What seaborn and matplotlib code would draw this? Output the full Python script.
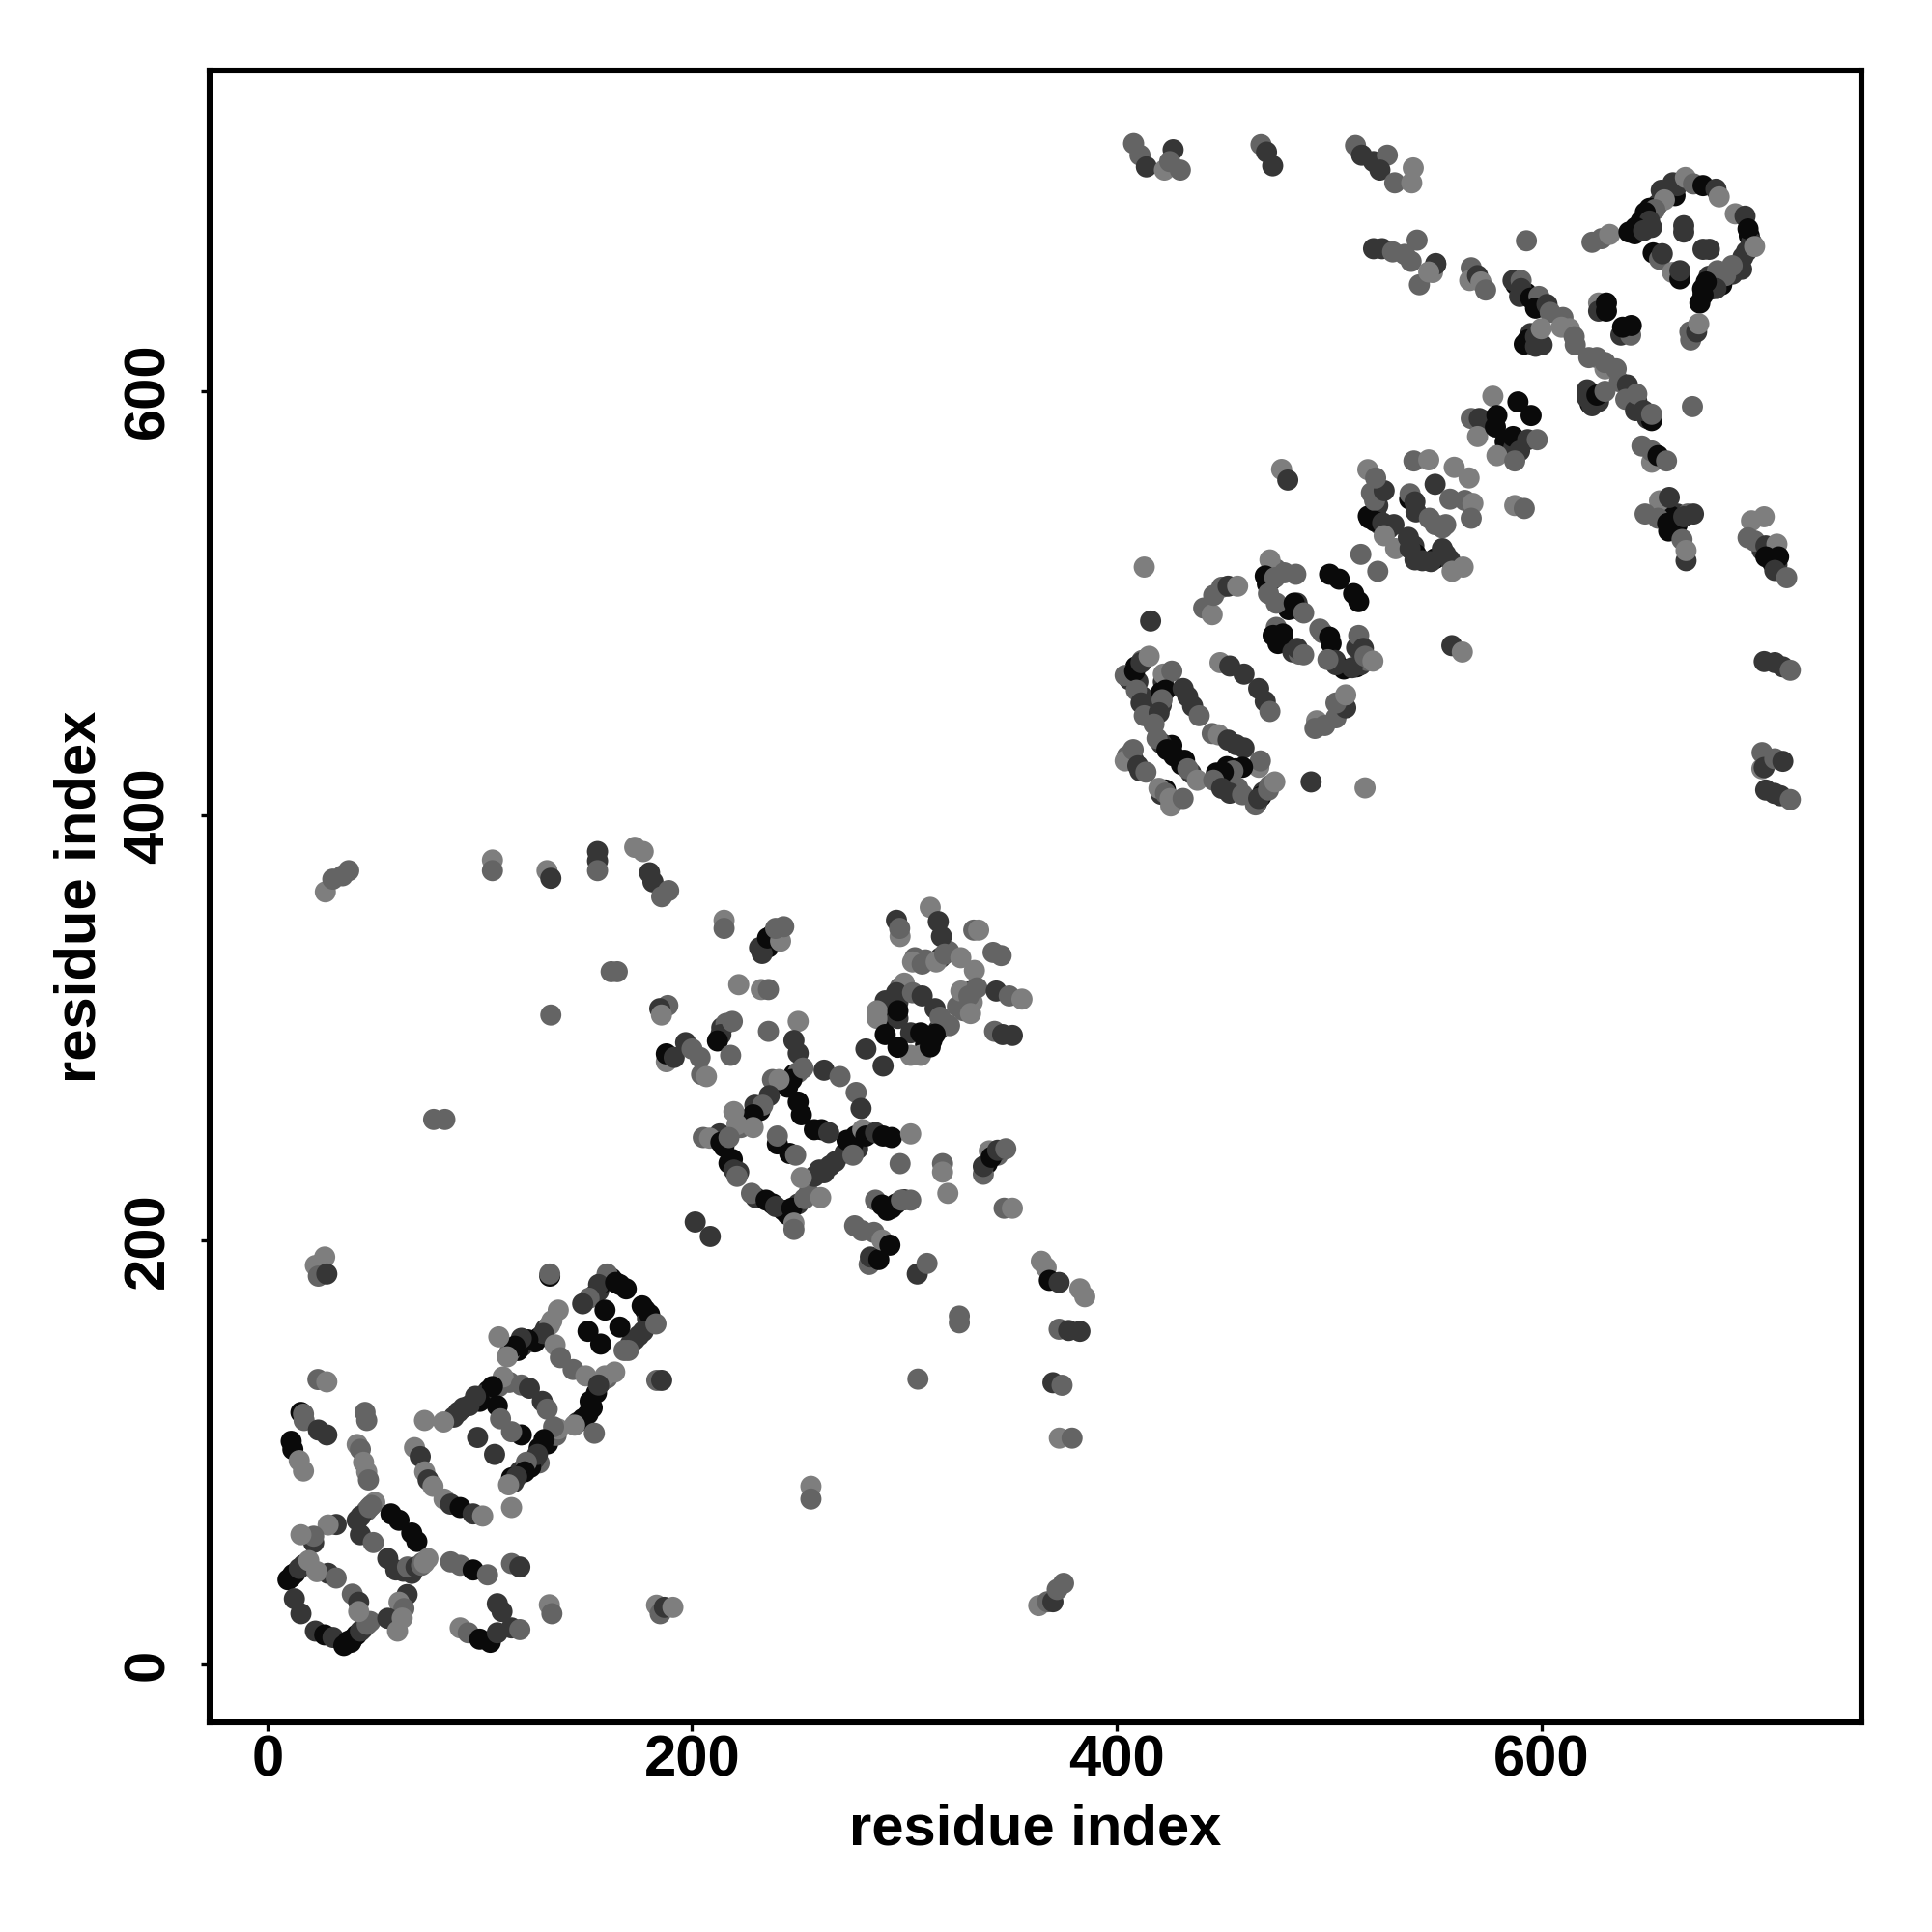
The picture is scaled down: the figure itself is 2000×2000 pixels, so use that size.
import matplotlib
matplotlib.use("Agg")
import matplotlib.pyplot as plt
import pandas as pd
import seaborn as sns

# (residue i, residue j, contact strength 0..3)
ring_low = [(27,192,0),(22.6,188,0),(24,183,1),(28,184,2),(133,183,3),(133,184,1),
(160,184,1),(156,179,2),(151.5,172.6,1),(148.5,170,2),(159,167,3),(164,180,3),(169,177,3),(176.5,169,3),(180,165,3),(177,157,2),(173,153,2),(168,148,1),(170,148,1),(166,159,3),(183,160.5,1),(151,157,3),(157,151,3),
(137,167,0),(134,162,0),(130,156,2),(135.5,150.6,0),(138,144.6,1),(122.7,153,3),(119.6,153.7,2),(116.6,150,3),(113,145,0),(109,154.4,0),
(144,139,1),(150,136,0),(159,136,0),(163.6,137.8,0),(156,131.7,2),(153,121,3),(148.5,115.8,3),(144.7,112.8,0),(154,109,1),
(111,135.5,0),(106,131,3),(98,126.4,2),(92.3,121,2),(87.8,116.6,2),(83,114.3,0),(74,115,0),(119.6,131.7,1),(123.4,130.2,2),(129.5,124,2),(131.8,120.3,1),(108.3,121.9,3),(109.8,115.8,1),(134.8,112,1),(130.3,106,3),(119.6,108.2,3),(115,109.7,1),(127.2,99,2),(122,95.3,1),(121.2,90.8,3),(117.4,88.5,2),(113.6,84.7,0),(99,107,2),(107,99,2),(115,74,0),(183.4,133.9,1),(185.7,133.9,2),
(11.2,105.2,3),(15.8,118.8,3),(17,118,1),(17.3,115,1),(24,110.5,2),(28,108.2,2),(12,101.4,3),(15,96.1,0),(17,91.2,0),(23.8,134.3,1),(28,133.2,0),
(46,118.8,1),(46.8,115,1),(42.3,103.7,0),(43.8,101.4,1),(45.3,95.3,0),(46.8,90.8,0),(47.6,87,1),
(69.3,102.2,0),(72,98,2),(74.1,90.8,0),(75.7,87,2),(78,84,0),(83.2,78,0),(86.3,75.6,2),(90.8,74,3),(96.9,71,2),(101.4,70,0)]
ring_low_dense = [(156,176,2),(154,174,2),(158,180,3),(162,182,3),(166,179,3),(178,167,3),(179,163,2),(181,162,2),(175,155,2),(171,151,2),(131,158,2),(128,154,3),(126,152,3),(133,160,0),(120,150,2),(118,148,3),(114,147,1),
(155,128,3),(157,133,2),(160,135,1),(152,124,3),(151,118,3),(146,114,2),(104,129,3),(102,127,2),(100,124,3),(95,122,2),(90,119,2),(109,131,1),(114,133,1),(128,95,1),(126,97,2),(124,93,3),(132,104,3),(128,102,3),(119,91,2),(116,86,2),(115,88,3),(136,108,1),(137,111,0)]
ring_bottom = [(42.3,68,2),(46.8,72.6,1),(50.6,76.4,0),(44,70,2),(48,74,1),(49,75,1),(58.2,71,3),(62,68,3),(68,62,3),(70.4,58,3),(56.7,50,2),(60.5,44.6,2),(64,44,2),(68,43,2),(66,46,1),(70,46,2),(72.6,46.8,1),(73,48,1),(75.6,50,0),(74,48,0),(43.8,61.2,2),(49.9,57.5,1),(32.4,66,2),(28.6,65.8,0),(21.8,57.5,2),(21.8,60.5,1),(15.8,61.2,0),
(9.7,40,3),(11,41,3),(12,42.5,3),(13,43,3),(15,45.3,2),(17,47,2),(19.5,49,0),(12.7,31,2),(15.8,24,2),(22.6,15.8,2),(27,14,3),(30.9,12.8,2),(36,9,3),(38,11,3),(39.3,10.5,3),(40,12,3),(42,14,3),(43.8,15.8,2),(45,17,2),(47,19,1),(48.4,20.3,1),(28.6,43,2),(23.3,43.8,0),(32.4,40.8,1),(40,33.2,1),(43,29.4,2),(43,25,0),(65.8,33,2),(62,29.4,0),(64.3,26.4,1),(56.7,21.8,2),(61.3,15.8,0),(63.5,21.9,0),
(86.3,48.4,1),(90.8,46.8,1),(96.9,44.6,3),(103.7,42.3,1),(115,47.6,1),(118.9,46,2),
(90.8,17.3,0),(94.6,15,1),(100,12,3),(105,10.5,3),(108.3,15,2),(110.5,25,2),(108.3,28.7,2),(115,17.3,2),(118.9,16.5,1),(132.8,28.2,0),(134,24,1),
(183.3,28,0),(185,24,1),(187,27,2),(191,27,0)]
ring_mid = [(215.1,350.6,0),(215.1,346.8,1),(231.8,337.7,2),(235.6,342.3,3),(241.7,340.8,0),(239.4,346.8,1),(243.2,347.6,1),
(222,320.3,0),(232.6,318,0),(236,318,1),(188.6,310.5,1),(184.8,309,2),(185.6,306,0),
(213.6,296.8,2),(212,293.8,3),(219,303,1),(218.2,287,1),(236,298.3,1),(250,303,0),
(187.9,284,0),(187.9,287.7,3),(191.6,286,2),(197,293,2),(200,290,1),(203.8,286,1),(204.5,278,1),(206.8,277,0),
(248,294,2),(250,288,2),(247,275.6,3),(252.3,281,1),(237.9,275.6,1),(241,275.6,0),(236.4,268,2),(229.6,263.5,2),(233.3,263.5,1),(228.8,259,3),(219.7,260.5,0),(228.8,253,0),(221.2,254.4,0),(205.3,248.3,1),(208.3,248,0),(213.6,246,3),(217.4,248.3,1),
(217.4,236.2,3),(219.7,233,2),(221.2,230,1),(228,222,1),(234.9,218.8,3),(239.4,215.8,2),(247,215,3),(253,219.5,1),(260.6,220,0),(248,208,0),(248,205,1),
(257.6,230,2),(262.2,231.7,2),(267.5,237,2),(251.5,229.4,0),(275.8,245.3,3),(275.8,240,1),(280.4,252,0),(281.9,249,3),(286.4,250.6,2),(294,248.3,3),(290,249,3),(303,250,0),
(262.2,280,2),(269.7,277,1),(277.3,269.5,1),(279.6,262,2),(250,265,3),(251.5,259,3),(257.6,252,3),(261,252,3),(264.4,250.6,2),(240.2,245.3,3),(240.2,249,1),(246,240.8,3),(248.8,240,1),
(201.5,208.5,2),(208.6,201.7,2),(298,236,1),(318,236,1),(318,232,0),(320.5,222,0),(347,215,1),(350.9,215,0),
(340,242,0),(337.2,231,1),(337.2,234.7,2),(341,239,3),(344,242.3,2),(347.8,243,1),
(286.4,218.8,1),(289.5,216.5,3),(294,215,3),(298.6,218.8,1),(303,218.8,1),
(276.6,206.7,1),(280,204.4,1),(285.7,203.6,1),(283.4,188.5,1),(284,192,2),(288,190.8,3),(289.5,200,0),(293.2,197.6,3),(306.1,184,2),(310.7,189,1),
(325.9,161,1),(325.9,164.2,1),(364.5,190,0),(366.8,187,0),(368.3,181,3),(372.9,180,2),(382.7,177,0),(385,173.3,0),(372.9,158,1),(377.4,157.4,2),(382.7,157,2),
(312.2,356.7,0),(316,350,2),(317.5,343,2),(296.3,350.6,2),(298,343,0),(297.8,346.8,1),(332.7,346,1),(335,346,0),(341.8,335.5,1),(345.6,334,1),
(303.9,331,0),(308.4,330,1),(315,331,0),(319,334.7,1),(326.6,333,0),(333,327,0),(326.6,317.3,0),(330.4,315,1),(334.2,318.8,1),(343.3,317.3,2),(349.4,315,1),(355.4,313.5,0),(328,308,1),(331.2,306.7,0),
(300,321,0),(296.3,316.5,2),(303.9,316.5,1),(308.4,315,2),(291,312.7,2),(287.2,308,0),(287.2,304.4,0),(297,304.4,2),(297,308,3),
(314.5,309,2),(316.8,305,1),(321.3,301,1),(303,287,0),(307.7,287,0),(303,297.6,2),(307.7,297.6,3),(314.5,297,3),(312.2,291,3),(291,296.8,3),(297,290.8,3),(281.9,290,2),(290,282,2),(342.5,298.3,1),(346.3,296.8,2),(350.9,296.4,2)]
ring_mid_dense = [(214,300,2),(216,302,1),(236,338,3),(238,344,2),(233,335,2),(245,272,3),(248,278,3),(250,279,1),(232,261,3),(226,256,2),(223,253,1),(215,244,3),(213,250,2),(219,238,3),(222,232,2),(230,220,2),(238,217,3),(243,214,3),(250,217,2),(245,212,3),(255,222,1),(260,233,2),(265,235,2),(272,241,2),(273,247,3),(277,249,3),(278,243,2),(342,240,2),(339,236,3),(344,240,1),(292,214,3),(296,217,3),(300,219,2),
(297,312,2),(298,319,1),(293,310,3),(291,305,3),(295,309,3),(310,292,3),(313,294,3),(316,299,2),(319,302,1),(305,333,1),(310,332,1),(317,333,2),(321,336,1),(331,317,2),(332,312,0),(325,310,1)]
ring_high = [(413,517,0),(416,491.6,2),(441,497.7,1),(445,494.6,0),(445.7,503.7,1),(449.5,507.5,1),(452.5,508,2),(457,508,0),
(472.2,520.4,0),(470,512.8,3),(474.5,512,1),(479,514.3,1),(484.4,513.6,1),(471.5,504.5,1),(475.2,500,1),(483.6,500,3),(488.1,495.4,1),
(500.3,513.6,3),(504.8,511.3,3),(511.6,504.5,3),(514,500.7,3),(515,523,1),(523,515,1),
(475.2,488.6,1),(473.7,484.8,3),(478.3,485.5,3),(485.1,478.7,2),(488.1,475.7,1),(495.7,487.8,1),(500.3,484,3),(514,484.8,1),(516.2,478.7,2),(510.9,469.6,2),(503.3,471,2),(499.5,473.4,1),(517,475,1),(520.7,472.7,0),
(557.9,480,2),(562.8,477,0),(494.2,444.6,0),(493.4,441,1),(498,442.4,1),(503.3,446,1),(507.9,450.7,2),(503.3,453,1),(507.9,456.8,0),
(448.7,472,0),(453.3,470.4,2),(460,466.6,2),(466.9,459.8,2),(470,453.7,2),(472.2,449,1),
(404,466,1),(408.5,468,3),(411.5,472,2),(415.3,475,0),(409.3,459,1),(411.5,453,2),(413,447,1),(422,466.6,0),(426,468,1),(423,459,3),(421.4,454.5,1),(420,448.4,2),(417.6,443,1),
(431.3,459.8,2),(433.5,456,2),(435.8,451.5,2),(438.9,447,1),(445,438.6,1),(448,438,0),(452.5,435.5,2),(456.3,433.3,2),(460,431.8,2),
(419,436.3,1),(423.7,431,3),(430.5,424,3),(433.5,422,1),(438,416.6,0),(467,422.7,0),(467.7,425.7,1),(459.3,422.7,3),(454.8,421,1),(450.2,420.4,3),(445.7,416.6,1),(449.5,412.8,2),(453.3,410.5,2),(459.3,409.8,1),
(465.4,405,1),(466.9,408,2),(471.5,412,1),(474.5,415.8,0),(491.6,415.8,2),(517,413,0),
(404,425.7,0),(407.8,431,1),(410,423.4,2),(413.8,420.4,1),(419.9,412.8,0),(425.5,404.5,0),(423,410.5,1),(425.2,408,0),(431.3,408,1),
(518.5,541,3),(521.5,548.4,1),(521.5,538.6,3),(526,553,2),(525.3,537.8,2),(530.6,537,2),(526,531.8,0),(531.4,525.7,0),(537.4,531,2),(538.2,525.7,2),(540.5,520.4,2),(548,519.6,2),(553.4,525.7,2),(557,520.4,2),(558,515,0),(563.2,517,0),
(538.2,551.5,1),(540.5,547.7,2),(547.3,540,1),(553.4,535.5,1),(550,556,2),(557,549,1),(564,548.4,1),(567.8,547,0),(567,540,1),(587.5,546,0),(592,544.6,1),
(518.3,562.9,0),(540,567,1),(547,567.5,0),(559,564,0),(566,559,0),(477.7,563,0),(480.6,558,2),(522,559,1)]
ring_high_dense = [(406,464,2),(409,470,3),(412,473,1),(407,466,3),(410,463,2),(412,456,2),(414,451,2),(422,463,2),(421,458,3),(421,452,2),(426,433,3),(427,428,3),(421,434,2),(432,426,3),(435,420,2),(447,420,3),(452,423,3),(456,422,3),(449,416,2),(457,413,1),(469,411,2),(472,414,1),(466,406,2),(468,409,3),(405,428,1),(408,426,2),(411,421,2),(421,410,2),(423,412,3),(473,511,3),(471,509,3),(475,516,1),(481,497,3),(486,497,3),(485,500,2),(476,481,3),(483,477,2),(486,476,1),(497,486,1),(501,481,3),(503,473,2),(507,469,3),(513,470,3),(515,471,2),(518,473,1),(519,540,3),(520,552,1),(523,546,2),(522,542,2),(524,537,2),(528,535,2),(540,527,2),(541,523,3),(544,520,2),(550,521,3),(555,523,2),(538,549,3),(541,543,2),(550,537,1),(555,537,1),(513,479,2)]
ring_top = [(593,670.7,1),(623.9,670,1),(628.4,671.7,1),(632.2,673.7,0),
(656.5,694.5,2),(664,696.7,2),(667.9,700.5,0),(658,690,0),(653.5,685.4,1),(649,684,3),(651,680,2),(644.4,677,3),(641.3,674.8,3),(648.2,675.5,2),(671.7,697.5,1),(676.2,696.7,3),(682.3,695,2),(683.8,691.4,0),(691.4,683.4,0),(696,682.3,2),(697.4,676.3,3),(696.7,665.7,2),(700.5,668,0),(694.4,657.3,2),(689.9,659,1),(686.8,654.3,1),(683,656.6,1),(682.3,648.2,2),(677.7,651.3,3),(676.2,645.2,3),(674.7,641.4,3),
(667.1,677.8,2),(667.1,674.8,2),(676.2,666.7,2),(679.2,666.7,2),(652.7,665,3),(655.7,662,1),(657,664.6,2),(661.8,655.8,0),(665.3,652.8,3),(665.3,656.6,2),(670.4,624,1),(670,627.8,1),(673.2,627.8,2),(674.2,631.6,0),
(548.8,655.8,0),(550.3,659.6,2),(567,658,1),(566.3,652,0),(570,654.3,2),(571.6,651.3,0),(573.8,647.5,1),
(586.7,652,2),(590.5,652,1),(590.5,648.2,2),(589.8,644.5,2),(595,643.7,3),(598.9,644.5,1),(597.3,639,3),(602.7,640.7,2),(604.2,637,1),(610.2,634.6,1),(609.5,630,0),(613.3,629.3,0),(615.5,625.5,1),(616,621.7,1),
(593.6,624,3),(597.3,621,2),(600.4,621.7,2),(597.3,625.5,2),(600,629.3,0),(627,641.4,0),(627,637.6,2),(630.7,641.4,3),(630.7,637.6,3),(637.5,626.3,2),(642.1,626.3,1),(638.3,630,3),(642.4,630.8,3),
(622.4,615.7,1),(626.2,615.7,1),(630,610.4,0),(630,613.4,1),(635.3,610.4,1),(636.8,604.3,1),(640.6,602.8,2),(639.8,596,1),(644.4,590.7,2),(645,598.5,1),(652,586,3),(648.2,590.7,2),(652,589,1),
(621.6,596.8,2),(623.9,593,2),(621.6,600.5,2),(626.2,598,3),(630,599.8,1),(671.2,592.6,1),
(577.2,597.5,0),(589,594.8,3),(595.2,588.4,3),(567,587,1),(570.8,587,2),(570,578.5,0),(578.4,583,3),(579.1,588.4,3),(586.7,578.5,3),(593.6,577,2),(598.1,577,1),(579.1,569.5,0),(589.8,571.7,2),(587.5,567,1),
(647.4,574,1),(652,566.4,0),(652,571.7,1),(655,569.5,3),(659,567,1),(655.7,548.2,0),(660.3,549.8,2),(648.9,542,1),(655,540,1),(659.5,537.6,3),(664,536.9,3),(667.1,540.7,2),(671.7,542,2),(666.3,530,1),(668.2,520,2),(668.2,524.8,0),
(699,538.8,0),(705,540.7,0),(697.4,530.8,1),(700.5,529.3,1),(705.8,527,2),(711,527.8,0),(705.8,521.8,3),(711.8,521.8,3),(710,515.4,2),(715.6,512,1),
(705,472.5,2),(710,472,2),(713.8,470,2),(717.3,468.4,1),(703.9,422,0),(704,429.6,1),(705,422.6,2),(710,426.7,1),(713.8,425.5,2),(705.7,412,2),(709.8,410.4,2),(712.7,409.3,2),(717.3,407.5,1)]
ring_top_dense = [(660,695,3),(663,692,3),(662,698,2),(655,688,2),(651,686,3),(647,680,3),(644,674,3),(652,677,2),(698,673,3),(695,663,2),(699,670,2),(690,655,2),(685,650,3),(680,648,3),(679,654,2),(676,648,3),(588,650,3),(593,646,3),(600,640,3),(592,622,3),(595,627,2),(624,598,2),(623,594,3),(627,595,2),(645,595,2),(650,587,2),(575,585,2),(573,586,2),(583,576,3),(590,575,2),(587,573,2),(660,534,3),(662,539,3),(664,542,2),(669,542,1),(661,541,3),(708,524,3),(709,519,3),(704,525,2),(711,518,2)]
stragglers = [(408,716.5,1),(411,711,1),(414,705.5,2),(422.5,704,0),(426.6,713.6,2),(425,708,1),(430,704,1),(468,716,1),(470.6,712.5,2),(473.5,706,2),
(512.5,715.6,1),(515.4,711,2),(521,708,2),(527.5,711,1),(524,704,2),(531,698,1),(539.7,705,0),(539,698,0),
(521,667,2),(525,667,2),(530,665.5,1),(535.7,664.3,1),(541.5,671,1),(538.7,661,1),(550.3,660,2),(542.6,650,1),(547,656,0),
(27.3,364,0),(30.8,370,1),(35.4,371.6,1),(38.3,374,1),(106,379,0),(106,374,1),(131.7,374,0),(133.5,370.4,2),(155.5,383,2),(155.5,378.6,2),(155.5,374,1),(173,385,0),(177,383,0),(180,373,2),(181.6,368.7,2),(185.7,361.7,1),(189,364.6,1),
(133.5,306,1),(78.3,256.8,1),(83.6,256.8,1),(161.9,326.4,1),(164.8,326.4,1),(256,84,0),(256,78,1),(306.4,134.5,1),(370,132.8,2),(374.3,131.6,1),(373,106.7,0),(379,106.7,1),
(363.3,27.8,0),(367.4,29.6,1),(370,29.6,2),(372,35.4,1),(375,38.3,1)]
strength_colors = {0: "#7e7e7e", 1: "#646464", 2: "#363636", 3: "#0a0a0a"}
tick_values = [0, 200, 400, 600]
axis_label = "residue index"

rows = (ring_low_dense + ring_low + ring_bottom + ring_mid_dense + ring_mid
        + ring_high_dense + ring_high + ring_top_dense + ring_top + stragglers)
contacts = pd.DataFrame(rows, columns=["i", "j", "strength"])

sns.set_theme(style="white")
plt.rcParams["font.family"] = ["Liberation Sans", "DejaVu Sans"]
plt.rcParams["font.weight"] = "bold"

fig = plt.figure(figsize=(10, 10), dpi=200)
ax = fig.add_axes([0.1084, 0.1084, 0.8553, 0.8552])
sns.scatterplot(data=contacts, x="i", y="j", hue="strength", palette=strength_colors,
                s=62, linewidth=0, legend=False, ax=ax)
ax.set_xlim(-27.3, 751)
ax.set_ylim(-27.3, 751)
ax.set_xticks(tick_values)
ax.set_yticks(tick_values)
ax.tick_params(axis="both", direction="out", length=3.4, width=1.2, color="black",
               labelsize=21.5, labelcolor="black", bottom=True, left=True)
ax.tick_params(axis="x", pad=1.2)
ax.tick_params(axis="y", pad=9.4)
for t in ax.get_yticklabels():
    t.set_rotation(90)
    t.set_va("center")
for t in ax.get_xticklabels() + ax.get_yticklabels():
    t.set_fontweight("bold")
ax.set_xlabel(axis_label, fontsize=21.5, fontweight="bold", color="black", labelpad=5.6)
ax.set_ylabel(axis_label, fontsize=21.5, fontweight="bold", color="black", labelpad=5.8)
for s in ax.spines.values():
    s.set_visible(True)
    s.set_color("black")
    s.set_linewidth(2.2)
fig.savefig("out.png", dpi=200, facecolor="white")
